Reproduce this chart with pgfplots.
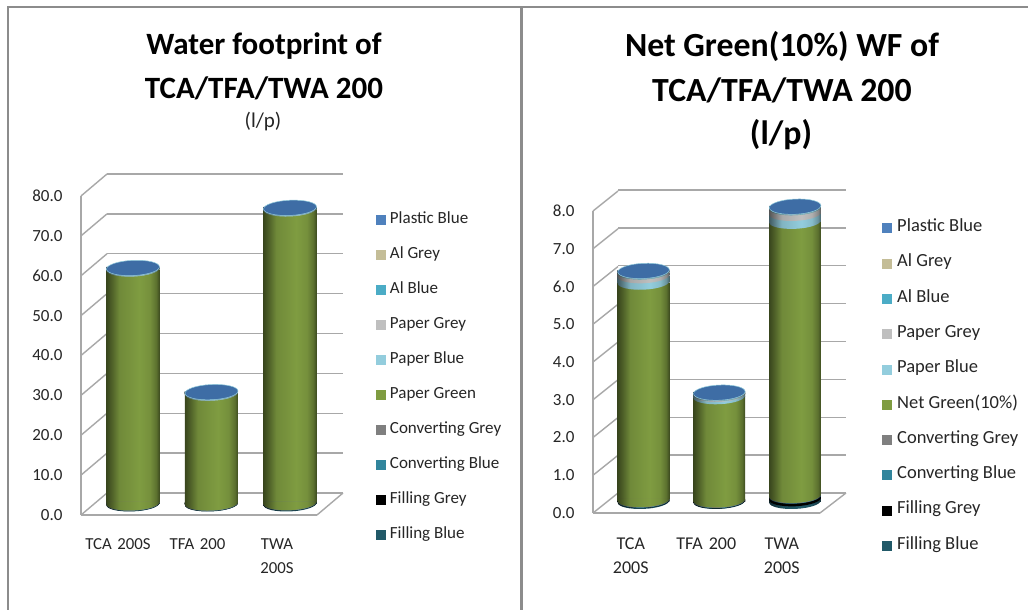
\documentclass[border=0pt]{standalone}
\usepackage{pgfplots}
\usepackage{pgfplotstable}
\usepackage{fontspec}
\setmainfont{Carlito}
\pgfplotsset{compat=1.18}

% Cylinder colours
\definecolor{cFB}{HTML}{215968}
\definecolor{cFG}{HTML}{000000}
\definecolor{cCB}{HTML}{31859C}
\definecolor{cCG}{HTML}{7F7F7F}
\definecolor{cPG}{HTML}{7F9C41}
\definecolor{cPB}{HTML}{93CDDD}
\definecolor{cPY}{HTML}{BFBFBF}
\definecolor{cAB}{HTML}{4BACC6}
\definecolor{cAG}{HTML}{C4BD97}
\definecolor{cPL}{HTML}{4F81BD}
\definecolor{cCap}{HTML}{3E6DA5}
\definecolor{gridgrey}{HTML}{A8A8A8}
\definecolor{labeltext}{HTML}{262626}

% A round side shading and a lower half-ellipse plot mark for one colour;
% the mark closes along a level top edge so it also covers the tilted chord
\newcommand{\cylinderstyle}[1]{%
  \pgfdeclarehorizontalshading{shade#1}{100bp}{%
    color(0bp)=(#1!45!black); color(25bp)=(#1!45!black);
    color(30bp)=(#1!62!black); color(37bp)=(#1!88!black);
    color(56bp)=(#1); color(66bp)=(#1!92!black);
    color(72bp)=(#1!72!black); color(75bp)=(#1!48!black); color(100bp)=(#1!48!black)}%
  \pgfdeclareplotmark{ell#1}{%
    \pgfpathmoveto{\pgfpoint{-\pgfplotmarksize}{-1.2pt}}%
    \pgfpathcurveto{\pgfpoint{-\pgfplotmarksize}{-1.2pt-4.09pt}}
      {\pgfpoint{0.5pt-0.5523*\pgfplotmarksize}{-7.4pt-0.66pt}}
      {\pgfpoint{0.5pt}{-7.4pt}}%
    \pgfpathcurveto{\pgfpoint{0.5pt+0.5523*\pgfplotmarksize}{-7.4pt+0.66pt}}
      {\pgfpoint{\pgfplotmarksize}{1.2pt-4.09pt}}
      {\pgfpoint{\pgfplotmarksize}{1.2pt}}%
    \pgfpathlineto{\pgfpoint{-\pgfplotmarksize}{1.2pt}}%
    \pgfpathclose
    \pgfshadepath{shade#1}{0}\pgfusepath{discard}}}
\cylinderstyle{cFB}\cylinderstyle{cFG}\cylinderstyle{cCB}\cylinderstyle{cCG}
\cylinderstyle{cPG}\cylinderstyle{cPB}\cylinderstyle{cPY}\cylinderstyle{cAB}
\cylinderstyle{cAG}\cylinderstyle{cPL}

% Top face of a cylinder
\pgfdeclareplotmark{cylcap}{%
  \pgfsetfillcolor{cCap}\pgfsetstrokecolor{cPB}\pgfsetlinewidth{0.5pt}%
  \pgfpathellipse{\pgfpointorigin}
    {\pgfpoint{\pgfplotmarksize}{1.2pt}}{\pgfpoint{-0.3pt}{7.6pt}}%
  \pgfusepath{fill,stroke}}

\pgfplotsset{
  wall axis/.style={
    scale only axis, anchor=south west, clip=false,
    axis line style={draw=none}, tick style={draw=none},
    xticklabels={}, yticklabels={}, xtick=\empty,
    ymajorgrids, major grid style={gridgrey, line width=1.4pt},
    legend cell align=left,
  },
  front axis/.style={
    scale only axis, anchor=south west, clip=false,
    axis x line*=bottom, axis y line*=left,
    axis line style={gridgrey, line width=1.4pt, -},
    major tick length=0pt, tick style={draw=none},
    xtick={0,1,2},
    xticklabel style={align=center, text width=70pt, text=labeltext, anchor=north},
    yticklabel style={font=\fontsize{17}{17}\selectfont, text=labeltext, xshift=-15pt},
    y tick label style={/pgf/number format/.cd, fixed, fixed zerofill, precision=1,
      assume math mode=true},
  },
  cylinder axis/.style={
    scale only axis, anchor=south west, clip=false, hide axis,
    ybar stacked, stacked ignores zero=false, reverse stacked plots=false, ymin=0,
  },
  seg/.style n args={2}{forget plot, shade, shading=shade#1, draw=none, mark=#2},
}

% One stacked cylinder, taken from the row whose x equals #3
\newcommand{\cylinder}[3]{%
\begin{axis}[cylinder axis, #1, restrict x to domain=#3:#3]
\addplot[only marks, mark=ellcFB, forget plot] coordinates {(#3,0)};
\addplot[seg={cFB}{ellcFG}] table[x=x,y=FB] {#2};
\addplot[seg={cFG}{ellcCB}] table[x=x,y=FG] {#2};
\addplot[seg={cCB}{ellcCG}] table[x=x,y=CB] {#2};
\addplot[seg={cCG}{ellcPG}] table[x=x,y=CG] {#2};
\addplot[seg={cPG}{ellcPB}] table[x=x,y=PG] {#2};
\addplot[seg={cPB}{ellcPY}] table[x=x,y=PB] {#2};
\addplot[seg={cPY}{ellcAB}] table[x=x,y=PY] {#2};
\addplot[seg={cAB}{ellcAG}] table[x=x,y=AB] {#2};
\addplot[seg={cAG}{ellcPL}] table[x=x,y=AG] {#2};
\addplot[seg={cPL}{cylcap}] table[x=x,y=PL] {#2};
\end{axis}}

% Legend rows; #1 names the green series
\newcommand{\legendrows}[1]{%
\addlegendimage{cPL}\addlegendentry{Plastic Blue}
\addlegendimage{cAG}\addlegendentry{Al Grey}
\addlegendimage{cAB}\addlegendentry{Al Blue}
\addlegendimage{cPY}\addlegendentry{Paper Grey}
\addlegendimage{cPB}\addlegendentry{Paper Blue}
\addlegendimage{cPG}\addlegendentry{#1}
\addlegendimage{cCG}\addlegendentry{Converting Grey}
\addlegendimage{cCB}\addlegendentry{Converting Blue}
\addlegendimage{cFG}\addlegendentry{Filling Grey}
\addlegendimage{cFB}\addlegendentry{Filling Blue}}

% Water footprint, l/p
\pgfplotstableread{
x  FB   FG   CB   CG   PG    PB   PY   AB   AG   PL
0  0.08 0.06 0.06 0.06 58.6  0.06 0.06 0.06 0.06 0.06
1  0.06 0.06 0.06 0.06 27.5  0.06 0.06 0.06 0.06 0.06
2  0.15 0.06 0.06 0.06 73.6  0.06 0.06 0.06 0.06 0.06
}\totaltable

% Net green (10%) water footprint, l/p
\pgfplotstableread{
x  FB    FG    CB    CG    PG    PB    PY    AB    AG    PL
0  0.02  0.01  0.01  0.01  5.75  0.17  0.10  0.01  0.01  0.01
1  0.01  0.01  0.01  0.01  2.73  0.06  0.02  0.01  0.01  0.01
2  0.07  0.07  0.01  0.01  7.25  0.21  0.15  0.01  0.01  0.01
}\greentable

\begin{document}
\begin{tikzpicture}[x=1pt,y=1pt]
\useasboundingbox (0,0) rectangle (1028,610);
\fill[white] (0,0) rectangle (1028,610);

% Panel rules
\draw[color=black!45, line width=2pt] (1028,603) -- (7.5,603) -- (7.5,0);
\draw[color=black!45, line width=3.5pt] (521.5,0) -- (521.5,603);

% Titles
\node[font=\bfseries\fontsize{31}{31}\selectfont, text=black] at (264,564) {Water footprint of};
\node[font=\bfseries\fontsize{31}{31}\selectfont, text=black] at (264,522) {TCA/TFA/TWA 200};
\node[font=\fontsize{21}{21}\selectfont, text=labeltext] at (263,488) {(l/p)};
\node[font=\bfseries\fontsize{33.8}{33.8}\selectfont, text=black] at (782,563) {Net Green(10\%) WF of};
\node[font=\bfseries\fontsize{33.8}{33.8}\selectfont, text=black] at (782,520) {TCA/TFA/TWA 200};
\node[font=\bfseries\fontsize{33.8}{33.8}\selectfont, text=black] at (781,475) {(l/p)};

% ---------- left chart ----------
\begin{axis}[wall axis, at={(107pt,117pt)}, width=236pt, height=319pt,
  xmin=0, xmax=1, ymin=0, ymax=80, ytick={0,10,...,80},
  legend image code/.code={\fill[#1] (0pt,-4.5pt) rectangle (9pt,4.5pt);
    \path[draw=none, fill=none] (0pt,0pt) -- (13.5pt,0pt);},
  legend style={draw=none, fill=none, at={(1.14,0.881)}, anchor=north west,
    font=\fontsize{17}{17}\selectfont, row sep=20pt, inner sep=0pt, text=labeltext,
    nodes={inner sep=0pt, text height=11pt, text depth=4pt}}]
\addplot[draw=none, forget plot] coordinates {(0,0) (1,80)};
\legendrows{Paper Green}
\end{axis}
\begin{axis}[front axis, at={(81pt,95pt)}, width=236pt, height=319pt,
  xmin=-0.465, xmax=2.503, ymin=0, ymax=80, ytick={0,10,...,80},
  xticklabel style={font=\fontsize{16.8}{24}\selectfont, yshift=-20pt},
  xticklabels={TCA 200S, TFA 200, TWA\\200S}]
\addplot[draw=none, forget plot] coordinates {(0,0) (1,80)};
\pgfplotsinvokeforeach{0,10,...,80}{
  \draw[gridgrey, line width=1.4pt] (axis cs:-0.465,#1) -- ++(26pt,22pt);
}
\draw[gridgrey, line width=1.4pt] (axis cs:2.503,0) -- ++(26pt,22pt);
\end{axis}
\pgfplotsset{leftcyl/.style={at={(81pt,106pt)}, width=262pt, height=319.2pt, ymax=80,
  xmin=-0.662, xmax=2.675, bar width=53pt, mark size=26.5pt}}
\cylinder{leftcyl}{\totaltable}{0}
\cylinder{leftcyl}{\totaltable}{1}
\cylinder{leftcyl}{\totaltable}{2}

% ---------- right chart ----------
\begin{axis}[wall axis, at={(618pt,117pt)}, width=228pt, height=303pt,
  xmin=0, xmax=1, ymin=0, ymax=8, ytick={0,1,...,8},
  legend image code/.code={\fill[#1] (0pt,-4.5pt) rectangle (9pt,4.5pt);
    \path[draw=none, fill=none] (0pt,0pt) -- (15pt,0pt);},
  legend style={draw=none, fill=none, at={(1.157,0.90)}, anchor=north west,
    font=\fontsize{18.5}{18.5}\selectfont, row sep=20.3pt, inner sep=0pt, text=labeltext,
    nodes={inner sep=0pt, text height=11pt, text depth=4pt}}]
\addplot[draw=none, forget plot] coordinates {(0,0) (1,8)};
\legendrows{Net Green(10\%)}
\end{axis}
\begin{axis}[front axis, at={(593pt,97pt)}, width=227pt, height=302pt,
  xmin=-0.5, xmax=2.507, ymin=0, ymax=8, ytick={0,1,...,8},
  xticklabel style={font=\fontsize{18}{24}\selectfont, yshift=-21pt},
  xticklabels={TCA\\200S, TFA 200, TWA\\200S}]
\addplot[draw=none, forget plot] coordinates {(0,0) (1,8)};
\pgfplotsinvokeforeach{0,1,...,8}{
  \draw[gridgrey, line width=1.4pt] (axis cs:-0.5,#1) -- ++(25pt,20pt);
}
\draw[gridgrey, line width=1.4pt] (axis cs:2.507,0) -- ++(26pt,20pt);
\end{axis}
\pgfplotsset{rightcyl/.style={at={(593pt,108.5pt)}, width=253pt, height=302.4pt, ymax=8,
  xmin=-0.667, xmax=2.672, bar width=51.6pt, mark size=25.8pt}}
\cylinder{rightcyl}{\greentable}{0}
\cylinder{rightcyl}{\greentable}{1}
\cylinder{rightcyl}{\greentable}{2}
\end{tikzpicture}
\end{document}
